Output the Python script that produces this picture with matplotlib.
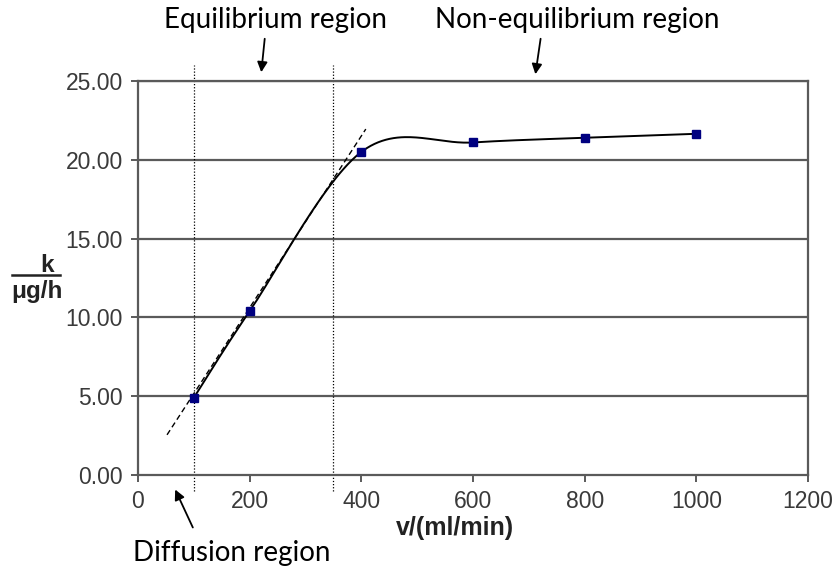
import numpy as np
import matplotlib
matplotlib.use("Agg")
import matplotlib.pyplot as plt

# Data
flow = [100, 200, 400, 600, 800, 1000]
k_vals = [4.9, 10.4, 20.5, 21.1, 21.4, 21.65]
tangent_x = [52, 408]
tangent_y = [2.55, 21.95]
region_bounds = [100, 350]
yticks = [0, 5, 10, 15, 20, 25]
xticks = [0, 200, 400, 600, 800, 1000, 1200]


def catmull_rom(xs, ys, n=60):
    P = np.column_stack([xs, ys]).astype(float)
    m = len(P)
    out = []
    for i in range(m - 1):
        p0 = P[i - 1] if i > 0 else P[i]
        p1 = P[i]
        p2 = P[i + 1]
        p3 = P[i + 2] if i + 2 < m else P[i + 1]
        c1 = p1 + (p2 - p0) / 6.0
        c2 = p2 - (p3 - p1) / 6.0
        t = np.linspace(0, 1, n)[:, None]
        seg = ((1 - t) ** 3) * p1 + 3 * ((1 - t) ** 2) * t * c1 + 3 * (1 - t) * t ** 2 * c2 + t ** 3 * p2
        out.append(seg if i == 0 else seg[1:])
    s = np.vstack(out)
    return s[:, 0], s[:, 1]


W, H = 837, 570


def fx(px):
    return px / W


def fy(py):
    return 1 - py / H


fig = plt.figure(figsize=(8.37, 5.70), dpi=100)
ax = fig.add_axes([fx(138), fy(475), 670 / W, 394 / H])

ax.set_xlim(0, 1200)
ax.set_ylim(0, 25)
ax.set_xticks(xticks)
ax.set_yticks(yticks)
ax.set_yticklabels([f"{v:.2f}" for v in yticks])

for v in yticks[1:]:
    ax.axhline(v, color="#5a5a5a", lw=1.6, zorder=1)

for s in ["left", "bottom", "right", "top"]:
    ax.spines[s].set_color("#5a5a5a")
    ax.spines[s].set_linewidth(1.6)

lab_font = ["Liberation Sans", "DejaVu Sans"]
ax.tick_params(axis="both", direction="out", length=5, width=1.4, color="#5a5a5a",
               labelsize=16.5, labelcolor="#3a3a3a")
ax.tick_params(axis="y", pad=6)
ax.tick_params(axis="x", pad=6)
for lab in ax.get_xticklabels() + ax.get_yticklabels():
    lab.set_family(lab_font)

# smooth curve
cx, cy = catmull_rom(flow, k_vals)
ax.plot(cx, cy, color="black", lw=1.4, zorder=3)
ax.plot(flow, k_vals, ls="none", marker="s", ms=6, color="#000080", zorder=4)

# tangent
ax.plot(tangent_x, tangent_y, color="black", lw=1.0, ls=(0, (4, 2.5)), zorder=3)

# vertical dotted region boundaries (extending beyond the axes)
for xb in region_bounds:
    ax.plot([xb, xb], [-1.0, 26.0], color="black", lw=0.9, ls=(0, (1, 1.5)),
            clip_on=False, zorder=2)

font_ann = ["Lato", "DejaVu Sans"]
fig.text(fx(276), fy(28), "Equilibrium region", ha="center", va="baseline",
         fontsize=20, family=font_ann)
fig.text(fx(577), fy(28), "Non-equilibrium region", ha="center", va="baseline",
         fontsize=20, family=font_ann)
fig.text(fx(232), fy(561), "Diffusion region", ha="center", va="baseline",
         fontsize=20, family=font_ann)

arrowprops = dict(arrowstyle="-|>", color="black", lw=1.3, mutation_scale=15)
ax.annotate("", xy=(fx(261), fy(75)), xytext=(fx(265), fy(36)),
            xycoords="figure fraction", textcoords="figure fraction", arrowprops=arrowprops)
ax.annotate("", xy=(fx(535), fy(77)), xytext=(fx(541), fy(36)),
            xycoords="figure fraction", textcoords="figure fraction", arrowprops=arrowprops)
ax.annotate("", xy=(fx(174), fy(487)), xytext=(fx(194), fy(530)),
            xycoords="figure fraction", textcoords="figure fraction", arrowprops=arrowprops)

# axis labels
fig.text(fx(455), fy(528), "v/(ml/min)", ha="center", va="center",
         fontsize=18, fontweight="bold", family=lab_font, color="#222222")
fig.text(fx(47), fy(272), "k", ha="center", va="baseline",
         fontsize=17.5, fontweight="bold", family=lab_font, color="#222222")
fig.add_artist(plt.Line2D([fx(12), fx(60)], [fy(275), fy(275)],
                          color="#222222", lw=1.8))
fig.text(fx(37), fy(298), "μg/h", ha="center", va="baseline",
         fontsize=17.5, fontweight="bold", family=lab_font, color="#222222")

fig.savefig("out.png", dpi=100)
